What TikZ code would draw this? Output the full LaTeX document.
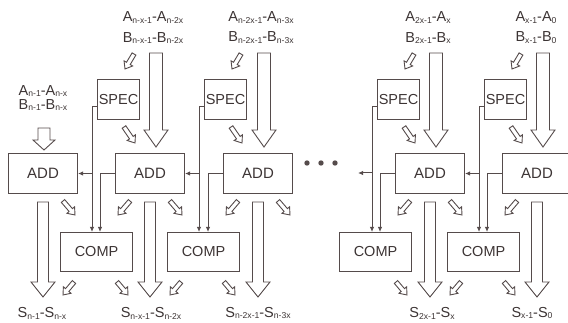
\documentclass[tikz,border=0pt]{standalone}
\usepackage{fontspec}
\setmainfont{Liberation Sans}
\usetikzlibrary{calc,arrows.meta}
\definecolor{ln}{RGB}{85,75,75}
\definecolor{tx}{RGB}{60,52,52}
\newcommand\sig[2]{#1\raisebox{-0.25ex}{\fontsize{8.6}{9}\selectfont #2}}
\newcommand\harrow[5]{%
 \path (#4) coordinate (hA) (#5) coordinate (hB);
 \path ($(hB)!#3!(hA)$) coordinate (hH);
 \draw[hollow] ($(hA)!#1!90:(hB)$) -- ($(hH)!#1!-90:(hA)$) -- ($(hH)!#2!-90:(hA)$) -- (hB) -- ($(hH)!#2!90:(hA)$) -- ($(hH)!#1!90:(hA)$) -- ($(hA)!#1!-90:(hB)$) -- cycle;}
\newcommand\toparrow[2]{\harrow{6.5pt}{12pt}{17pt}{#1}{#2}}
\newcommand\botarrow[2]{\harrow{5.5pt}{12pt}{15pt}{#1}{#2}}
\newcommand\smallarrow[2]{\harrow{2.2pt}{5pt}{6.5pt}{#1}{#2}}
\begin{document}
\begin{tikzpicture}[x=1pt,y=-1pt,
 box/.style={draw=ln,line width=1pt,anchor=north west,inner sep=0pt,minimum height=40pt,font=\fontsize{15}{16}\selectfont,text=tx},
 addbox/.style={box,minimum width=69pt},
 specbox/.style={box,minimum width=42pt,font=\fontsize{14.5}{16}\selectfont},
 compbox/.style={box,minimum width=72pt,minimum height=39pt,font=\fontsize{14.5}{16}\selectfont},
 lab/.style={inner sep=0pt,font=\fontsize{14.5}{16}\selectfont,text=tx},
 hollow/.style={draw=ln,line width=0.9pt,fill=white,line join=miter},
 wire/.style={draw=ln,line width=1pt},
 tip/.style={-{Latex[length=5pt,width=4.5pt]}}]
\useasboundingbox (0,0) rectangle (568,323);
\clip (0,0) rectangle (568,323);

% boxes
\node[addbox] (add1) at (8,153) {ADD};
\node[addbox] (add2) at (115,153) {ADD};
\node[addbox] (add3) at (223,153) {ADD};
\node[addbox] (add4) at (395,153) {ADD};
\node[addbox] (add5) at (502,153) {ADD};
\node[specbox] (spec2) at (97,79) {SPEC};
\node[specbox] (spec3) at (204,79) {SPEC};
\node[specbox] (spec4) at (377,79) {SPEC};
\node[specbox] (spec5) at (484,79) {SPEC};
\node[compbox] (comp1) at (60,232) {COMP};
\node[compbox] (comp2) at (167,232) {COMP};
\node[compbox] (comp3) at (339,232) {COMP};
\node[compbox] (comp4) at (447,232) {COMP};

% labels top
\node[lab] (a1) at (43,91) {\sig{A}{n-1}-\sig{A}{n-x}};
\node[lab] (b1) at (43,105) {\sig{B}{n-1}-\sig{B}{n-x}};
\node[lab] (a2) at (153,17.5) {\sig{A}{n-x-1}-\sig{A}{n-2x}};
\node[lab] (b2) at (153,38) {\sig{B}{n-x-1}-\sig{B}{n-2x}};
\node[lab] (a3) at (261,17.5) {\sig{A}{n-2x-1}-\sig{A}{n-3x}};
\node[lab] (b3) at (261,38) {\sig{B}{n-2x-1}-\sig{B}{n-3x}};
\node[lab] (a4) at (428,17.5) {\sig{A}{2x-1}-\sig{A}{x}};
\node[lab] (b4) at (428,38) {\sig{B}{2x-1}-\sig{B}{x}};
\node[lab] (a5) at (536,17.5) {\sig{A}{x-1}-\sig{A}{0}};
\node[lab] (b5) at (536,38) {\sig{B}{x-1}-\sig{B}{0}};
% labels bottom
\node[lab] (s1) at (42,313) {\sig{S}{n-1}-\sig{S}{n-x}};
\node[lab] (s2) at (151,313) {\sig{S}{n-x-1}-\sig{S}{n-2x}};
\node[lab] (s3) at (258,313) {\sig{S}{n-2x-1}-\sig{S}{n-3x}};
\node[lab] (s4) at (432,313) {\sig{S}{2x-1}-\sig{S}{x}};
\node[lab] (s5) at (532,313) {\sig{S}{x-1}-\sig{S}{0}};

% dots
\foreach \x in {307,321,335} \fill[ln] (\x,163) circle (2.7pt);

% wires
\draw[wire,tip] ($(spec2.west)+(0,7)$) -- ++(-5,0) coordinate (v2) -- (v2 |- comp1.north);
\draw[wire,tip] (v2 |- add1.east) -- (add1.east);
\draw[wire,tip] (add2.west) -- ++(-15,0) coordinate (w2) -- (w2 |- comp1.north);
\draw[wire,tip] ($(spec3.west)+(0,7)$) -- ++(-5,0) coordinate (v3) -- (v3 |- comp2.north);
\draw[wire,tip] (v3 |- add2.east) -- (add2.east);
\draw[wire,tip] (add3.west) -- ++(-15,0) coordinate (w3) -- (w3 |- comp2.north);
\draw[wire,tip] ($(spec4.west)+(0,7)$) -- ++(-5,0) coordinate (v4) -- (v4 |- comp3.north);
\coordinate (lend) at (358,173);
\draw[wire,tip] (v4 |- lend) -- (lend);
\draw[wire,tip] (add4.west) -- ++(-15,0) coordinate (w4) -- (w4 |- comp3.north);
\draw[wire,tip] ($(spec5.west)+(0,7)$) -- ++(-5,0) coordinate (v5) -- (v5 |- comp4.north);
\draw[wire,tip] (v5 |- add4.east) -- (add4.east);
\draw[wire,tip] (add5.west) -- ++(-15,0) coordinate (w5) -- (w5 |- comp4.north);

% big top arrows
\harrow{6pt}{11pt}{10pt}{44,128}{44,150}
\toparrow{156,53}{156,147}
\toparrow{264,53}{264,147}
\toparrow{436,53}{436,147}
\toparrow{543,53}{543,147}
% big bottom arrows
\foreach \x in {43,150,258,430,537} {\botarrow{\x,202}{\x,297}}

% small arrows at SPEC
\foreach \s in {97,204,377,484} {
  \smallarrow{\s+37,54}{\s+28,69}
  \smallarrow{\s+27,127}{\s+38,143}
}
% small arrows under ADD
\foreach \a in {8,115,223,395} {\smallarrow{\a+55,201}{\a+67,215}}
\foreach \a in {115,223,395,502} {\smallarrow{\a+15,201}{\a+3,215}}
% small arrows under COMP
\foreach \c in {60,167,447} {\smallarrow{\c+14,282}{\c+3,295}}
\foreach \c in {60,167,339,447} {\smallarrow{\c+57,282}{\c+68,295}}
\end{tikzpicture}
\end{document}
